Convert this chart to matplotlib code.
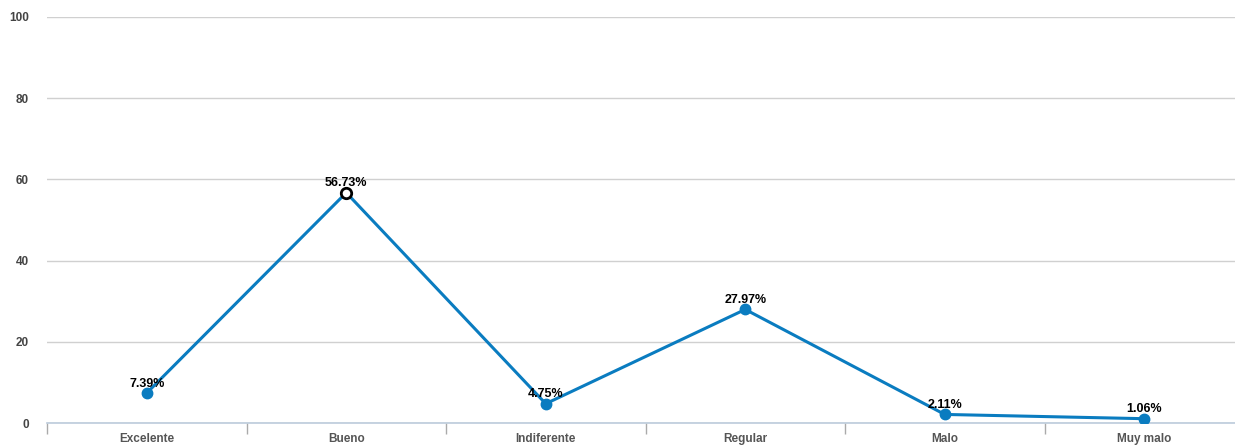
import matplotlib
matplotlib.use("Agg")
import matplotlib.pyplot as plt

categories = ["Excelente", "Bueno", "Indiferente", "Regular", "Malo", "Muy malo"]
values = [7.39, 56.73, 4.75, 27.97, 2.11, 1.06]
labels = ["7.39%", "56.73%", "4.75%", "27.97%", "2.11%", "1.06%"]
yticks = [0, 20, 40, 60, 80, 100]
highlight = 1

plt.rcParams['font.family'] = ['Liberation Sans', 'DejaVu Sans']

W, H = 1235, 446
fig = plt.figure(figsize=(W / 100, H / 100), dpi=100)
left, right, top, bottom = 47, 1244, 17, 423
ax = fig.add_axes([left / W, (H - bottom) / H, (right - left) / W, (bottom - top) / H])

x = list(range(len(categories)))
line_color = "#0a7cc0"
ax.plot(x, values, color=line_color, lw=2.2, zorder=3, solid_capstyle='round')
for i, v in enumerate(values):
    if i == highlight:
        ax.plot(i, v, 'o', ms=7.5, mfc='white', mec='black', mew=2, zorder=4)
    else:
        ax.plot(i, v, 'o', ms=7.5, mfc=line_color, mec=line_color, zorder=4)
    ax.annotate(labels[i], (i, v), xytext=(0, 2.5), textcoords='offset points',
                ha='center', va='bottom', fontsize=9, fontweight='bold', color='black', zorder=5)

ax.set_xlim(-0.5, len(categories) - 0.5)
ax.set_ylim(0, 100)
ax.set_yticks(yticks)
ax.set_yticklabels([str(t) for t in yticks], fontsize=8.5, fontweight='bold', color='#444444')
ax.yaxis.grid(True, color='#d0d0d0', lw=1)
ax.set_axisbelow(True)
ax.tick_params(axis='y', length=0, pad=13)

ax.set_xticks([i - 0.5 for i in x] + [len(categories) - 0.5])
ax.set_xticklabels([])
ax.set_xticks(x, minor=True)
ax.set_xticklabels(categories, minor=True, fontsize=8.5, fontweight='bold', color='#555555')
ax.tick_params(axis='x', which='major', length=8, color='#aaaaaa', width=1)
ax.tick_params(axis='x', which='minor', length=0, pad=7)

for s in ['top', 'right', 'left']:
    ax.spines[s].set_visible(False)
ax.spines['bottom'].set_color('#bccbdb')
ax.spines['bottom'].set_linewidth(1.2)

fig.savefig("out.png", dpi=100)
